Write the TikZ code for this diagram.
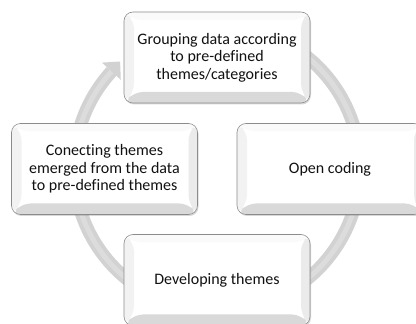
\documentclass[tikz,border=0pt]{standalone}
\usepackage{fontspec}
\setmainfont[Ligatures=NoCommon]{Carlito}
\usetikzlibrary{shadows}
\definecolor{ringc}{HTML}{D2D2D2}
\definecolor{ringl}{HTML}{DCDCDC}
\definecolor{boxline}{HTML}{8C8C8C}
\definecolor{txt}{HTML}{111111}
\tikzset{
  ring/.style={line width=13pt, draw=ringc},
  ringhi/.style={line width=5pt, draw=ringl},
  headfill/.style={fill=ringc},
  cbox/.style={rounded corners=9pt, draw=boxline, line width=0.6pt, fill=white,
    minimum width=186pt, minimum height=91pt, inner sep=0pt, align=center,
    font=\fontsize{16}{17.5}\selectfont, text=txt,
    drop shadow={opacity=0.3, shadow xshift=1pt, shadow yshift=-1.5pt},
    path picture={
      \fill[black!15] (path picture bounding box.south west) -- (path picture bounding box.south east)
        -- ([shift={(-9pt,11pt)}]path picture bounding box.south east)
        -- ([shift={(10pt,11pt)}]path picture bounding box.south west) -- cycle;
      \fill[black!8] (path picture bounding box.south east) -- (path picture bounding box.north east)
        -- ([shift={(-9pt,-8pt)}]path picture bounding box.north east)
        -- ([shift={(-9pt,11pt)}]path picture bounding box.south east) -- cycle;
      \fill[black!5] (path picture bounding box.south west) -- (path picture bounding box.north west)
        -- ([shift={(10pt,-8pt)}]path picture bounding box.north west)
        -- ([shift={(10pt,11pt)}]path picture bounding box.south west) -- cycle;
      \fill[black!2] (path picture bounding box.north west) -- (path picture bounding box.north east)
        -- ([shift={(-9pt,-8pt)}]path picture bounding box.north east)
        -- ([shift={(10pt,-8pt)}]path picture bounding box.north west) -- cycle;
    }}
}
\begin{document}
\begin{tikzpicture}[x=1pt,y=1pt]
\useasboundingbox (0,0) rectangle (416,324);
\fill[white] (0,0) rectangle (416,324);
\coordinate (C) at (217,156);
% ring with arrow
\draw[ring] ([shift={(100:143)}]C) arc[start angle=100, end angle=-222.5, radius=143];
\draw[ringhi] ([shift={(100:143)}]C) arc[start angle=100, end angle=-222.5, radius=143];
\fill[headfill] ([shift={(137.5:130.5)}]C) -- ([shift={(132.3:144)}]C) -- ([shift={(137.5:156)}]C) -- cycle;
% boxes
\node[cbox] (top) at (217,266.5) {Grouping data according\\to pre-defined\\themes/categories};
\node[cbox] (left) at (104.5,155) {Conecting themes\\emerged from the data\\to pre-defined themes};
\node[cbox] (right) at (330,155) {Open coding};
\node[cbox] (bottom) at (217,44) {Developing themes};
\end{tikzpicture}
\end{document}
